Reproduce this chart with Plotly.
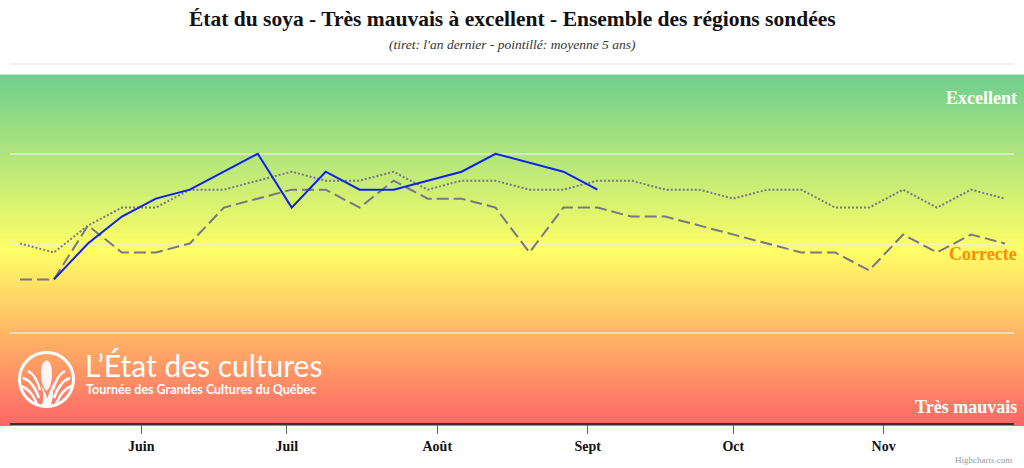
import plotly.graph_objects as go

# weekly survey dates
dates = [
    "2024-05-07", "2024-05-14", "2024-05-21", "2024-05-28",
    "2024-06-04", "2024-06-11", "2024-06-18", "2024-06-25",
    "2024-07-02", "2024-07-09", "2024-07-16", "2024-07-23", "2024-07-30",
    "2024-08-06", "2024-08-13", "2024-08-20", "2024-08-27",
    "2024-09-03", "2024-09-10", "2024-09-17", "2024-09-24",
    "2024-10-01", "2024-10-08", "2024-10-15", "2024-10-22", "2024-10-29",
    "2024-11-05", "2024-11-12", "2024-11-19", "2024-11-26",
]

# rating scale: 1 = très mauvais ... 3 = correcte ... 5 = excellent
this_year = [2.6, 3.0, 3.3, 3.5, 3.6, 3.8, 4.0, 3.4, 3.8, 3.6, 3.6,
             3.7, 3.8, 4.0, 3.9, 3.8, 3.6]
this_year_dates = dates[1:18]

last_year = [2.6, 2.6, 3.2, 2.9, 2.9, 3.0, 3.4, 3.5, 3.6, 3.6, 3.4, 3.7,
             3.5, 3.5, 3.4, 2.9, 3.4, 3.4, 3.3, 3.3, 3.2, 3.1, 3.0, 2.9,
             2.9, 2.7, 3.1, 2.9, 3.1, 3.0]

avg_5y = [3.0, 2.9, 3.2, 3.4, 3.4, 3.6, 3.6, 3.7, 3.8, 3.7, 3.7, 3.8,
          3.6, 3.7, 3.7, 3.6, 3.6, 3.7, 3.7, 3.6, 3.6, 3.5, 3.6, 3.6,
          3.4, 3.4, 3.6, 3.4, 3.6, 3.5]

month_ticks = ["2024-06-01", "2024-07-01", "2024-08-01", "2024-09-01",
               "2024-10-01", "2024-11-01"]
month_labels = ["Juin", "Juil", "Août", "Sept", "Oct", "Nov"]

W, H = 1024, 468
L, R, T, B = 10, 10, 64, 45
PW, PH = W - L - R, H - T - B


def px(x):
    return (x - L) / PW


def py(y):
    return (H - B - y) / PH


def path(points, close=False):
    # points in pixels -> paper path string
    out = []
    for p in points:
        cmd = p[0]
        coords = p[1:]
        conv = []
        for i in range(0, len(coords), 2):
            conv.append(f"{px(coords[i]):.5f},{py(coords[i + 1]):.5f}")
        out.append(cmd + " " + " ".join(conv))
    s = " ".join(out)
    return s + (" Z" if close else "")


serif = "Liberation Serif"

fig = go.Figure()

fig.add_trace(go.Scatter(
    x=dates, y=last_year, mode="lines", name="L'an dernier",
    line=dict(color="#777786", width=2, dash="12px,5px"),
))
fig.add_trace(go.Scatter(
    x=dates, y=avg_5y, mode="lines", name="Moyenne 5 ans",
    line=dict(color="#777786", width=2, dash="2px,2px"),
))
fig.add_trace(go.Scatter(
    x=this_year_dates, y=this_year, mode="lines", name="Cette année",
    line=dict(color="#1020f0", width=2),
))

# background gradient green -> yellow -> red
stops = [(0.0, (110, 207, 143)), (0.5, (255, 255, 102)), (1.0, (255, 102, 102))]


def grad_color(t):
    for (t0, c0), (t1, c1) in zip(stops[:-1], stops[1:]):
        if t <= t1:
            f = (t - t0) / (t1 - t0)
            return "rgb(%d,%d,%d)" % tuple(round(a + (b - a) * f) for a, b in zip(c0, c1))
    return "rgb(%d,%d,%d)" % stops[-1][1]


shapes = []
g_top, g_bot, n = 74.5, 426.0, 140
step = (g_bot - g_top) / n
for i in range(n):
    y0 = g_top + i * step
    y1 = min(g_bot, y0 + step + 0.8)
    shapes.append(dict(
        type="rect", xref="paper", yref="paper", layer="below",
        x0=px(0), x1=px(W), y0=py(y1), y1=py(y0),
        fillcolor=grad_color((i + 0.5) / n), line=dict(width=0),
    ))

# top grid line above the gradient
shapes.append(dict(type="line", xref="paper", yref="paper", layer="below",
                   x0=0, x1=1, y0=py(64), y1=py(64),
                   line=dict(color="#ebebeb", width=1.5)))

# logo: circle, cob, fields
white = "white"
shapes.append(dict(type="circle", xref="paper", yref="paper",
                   x0=px(19.5), x1=px(73.5), y0=py(406.5), y1=py(352.5),
                   line=dict(color=white, width=3)))
shapes.append(dict(type="path", xref="paper", yref="paper",
                   path=path([("M", 46.5, 360.5), ("Q", 52.5, 362, 52, 376),
                              ("Q", 51, 388, 46.5, 391), ("Q", 42, 388, 41, 376),
                              ("Q", 40.5, 362, 46.5, 360.5)], close=True),
                   fillcolor="rgba(255,255,255,0.92)", line=dict(width=0)))
shapes.append(dict(type="path", xref="paper", yref="paper",
                   path=path([("M", 41, 386), ("Q", 45, 394, 42, 405),
                              ("L", 51, 405), ("Q", 54, 394, 53, 384),
                              ("Q", 49, 393, 47, 399), ("Q", 46, 392, 41, 386)], close=True),
                   fillcolor=white, line=dict(width=0)))
for a, b, c, d, e, f in [(21, 386, 31, 389, 37, 404), (23, 378, 33, 381, 39, 398),
                         (28, 371, 36, 375, 40, 390)]:
    shapes.append(dict(type="path", xref="paper", yref="paper",
                       path=path([("M", a, b), ("Q", c, d, e, f)]),
                       line=dict(color=white, width=2.5)))
    shapes.append(dict(type="path", xref="paper", yref="paper",
                       path=path([("M", 93 - a, b), ("Q", 93 - c, d, 93 - e, f)]),
                       line=dict(color=white, width=2.5)))

annotations = [
    dict(text="<b>État du soya - Très mauvais à excellent - Ensemble des régions sondées</b>",
         x=0.5, y=py(19), font=dict(family=serif, size=21.5, color="#111")),
    dict(text="<i>(tiret: l'an dernier - pointillé: moyenne 5 ans)</i>",
         x=0.5, y=py(45), font=dict(family=serif, size=13.5, color="#333")),
    dict(text="<b>Excellent</b>", x=px(1019), y=py(98), xanchor="right",
         font=dict(family=serif, size=18, color="white")),
    dict(text="<b>Correcte</b>", x=px(1019), y=py(254), xanchor="right",
         font=dict(family=serif, size=18, color="#ff8c00")),
    dict(text="<b>Très mauvais</b>", x=px(1019), y=py(407), xanchor="right",
         font=dict(family=serif, size=18, color="white")),
    dict(text="L’État des cultures", x=px(83), y=py(365), xanchor="left",
         font=dict(family="Lato", size=30, color="white")),
    dict(text="<b>Tournée des Grandes Cultures du Québec</b>", x=px(84), y=py(389),
         xanchor="left", font=dict(family="Lato", size=12.5, color="white")),
    dict(text="Highcharts.com", x=px(1014), y=py(460), xanchor="right",
         font=dict(family=serif, size=9, color="#999")),
]
for a in annotations:
    a.update(xref="paper", yref="paper", showarrow=False)
    a.setdefault("xanchor", "center")
    a.setdefault("yanchor", "middle")

fig.update_layout(
    width=W, height=H,
    margin=dict(l=L, r=R, t=T, b=B),
    paper_bgcolor="white",
    plot_bgcolor="rgba(0,0,0,0)",
    showlegend=False,
    hovermode=False,
    shapes=shapes,
    annotations=annotations,
    xaxis=dict(
        type="date",
        range=["2024-05-04 22:30", "2024-11-27 20:40"],
        tickvals=month_ticks, ticktext=month_labels,
        ticks="outside", ticklen=9, tickcolor="#666", tickwidth=1,
        showline=True, linecolor="#333", linewidth=1.5,
        showgrid=False, zeroline=False,
        tickfont=dict(family=serif, size=14, color="#111", weight="bold"),
    ),
    yaxis=dict(
        range=[1, 5], tickvals=[2, 3, 4],
        showticklabels=False, showgrid=True,
        gridcolor="rgba(236,236,236,0.65)", gridwidth=1.5,
        zeroline=False, showline=False,
    ),
)

fig.write_html(
    "out.html",
    config={"displayModeBar": False},
    post_script="document.body.style.margin='0';document.body.style.overflow='hidden';",
)
